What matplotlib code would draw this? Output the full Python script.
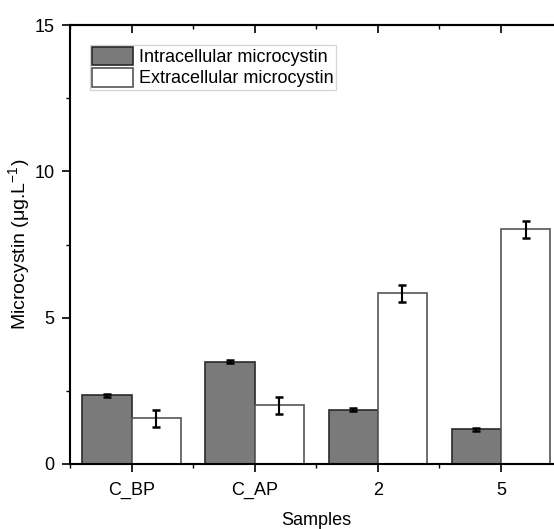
import numpy as np
import matplotlib.pyplot as plt
from matplotlib.ticker import MultipleLocator

plt.rcParams['font.family'] = ['Liberation Sans', 'DejaVu Sans']
plt.rcParams['mathtext.fontset'] = 'custom'
plt.rcParams['mathtext.rm'] = 'Liberation Sans'
plt.rcParams['mathtext.it'] = 'Liberation Sans:italic'

samples = ["C_BP", "C_AP", "2", "5"]
intra = [2.35, 3.50, 1.86, 1.18]
intra_err = [0.05, 0.04, 0.04, 0.05]
extra = [1.56, 2.00, 5.83, 8.02]
extra_err = [0.29, 0.29, 0.29, 0.30]

fig = plt.figure(figsize=(5.54, 5.29), dpi=100)
ax = fig.add_axes([0.1264, 0.1229, 0.889, 0.8298])

x = np.arange(len(samples))
w = 0.4
ax.bar(x - w / 2, intra, w, color="#7a7a7a", edgecolor="#2a2a2a", linewidth=1.2,
       label="Intracellular microcystin", zorder=2)
ax.bar(x + w / 2, extra, w, color="white", edgecolor="#555555", linewidth=1.2,
       label="Extracellular microcystin", zorder=2)
ax.errorbar(x - w / 2, intra, yerr=intra_err, fmt="none", ecolor="black",
            elinewidth=1.5, capsize=3, capthick=1.8, zorder=3)
ax.errorbar(x + w / 2, extra, yerr=extra_err, fmt="none", ecolor="black",
            elinewidth=1.5, capsize=3, capthick=1.8, zorder=3)

ax.set_xlim(-0.5, 3.5)
ax.set_ylim(0, 15)
ax.set_xticks(x)
ax.set_xticklabels(samples)
ax.xaxis.set_minor_locator(MultipleLocator(1, offset=0.5))
ax.set_yticks([0, 5, 10, 15])
ax.yaxis.set_minor_locator(MultipleLocator(2.5))

ax.tick_params(axis="both", which="major", labelsize=13, width=1.2, length=6,
               direction="out", pad=5)
ax.tick_params(axis="both", which="minor", width=1.0, length=3, direction="out")
ax.tick_params(axis="x", which="major", pad=7)
for s in ax.spines.values():
    s.set_linewidth(1.5)

# inward ticks along the top edge
top = ax.secondary_xaxis("top")
top.set_xticks(x)
top.xaxis.set_minor_locator(MultipleLocator(1, offset=0.5))
top.tick_params(which="major", direction="in", length=6, width=1.2, labeltop=False)
top.tick_params(which="minor", direction="in", length=3, width=1.0)
top.spines["top"].set_linewidth(1.5)

ax.set_xlabel("Samples", fontsize=13, labelpad=9)
ax.set_ylabel("Microcystin (μg.L$^{-1}$)", fontsize=14, labelpad=2)

leg = ax.legend(loc="upper left", bbox_to_anchor=(0.04, 0.955), borderaxespad=0,
                fontsize=13, frameon=True, fancybox=False, edgecolor="#cccccc",
                handlelength=2.3, handleheight=1.2, labelspacing=0.1,
                handletextpad=0.3, borderpad=0.12)
leg.get_frame().set_linewidth(1.0)

fig.savefig("out.png", dpi=100)
